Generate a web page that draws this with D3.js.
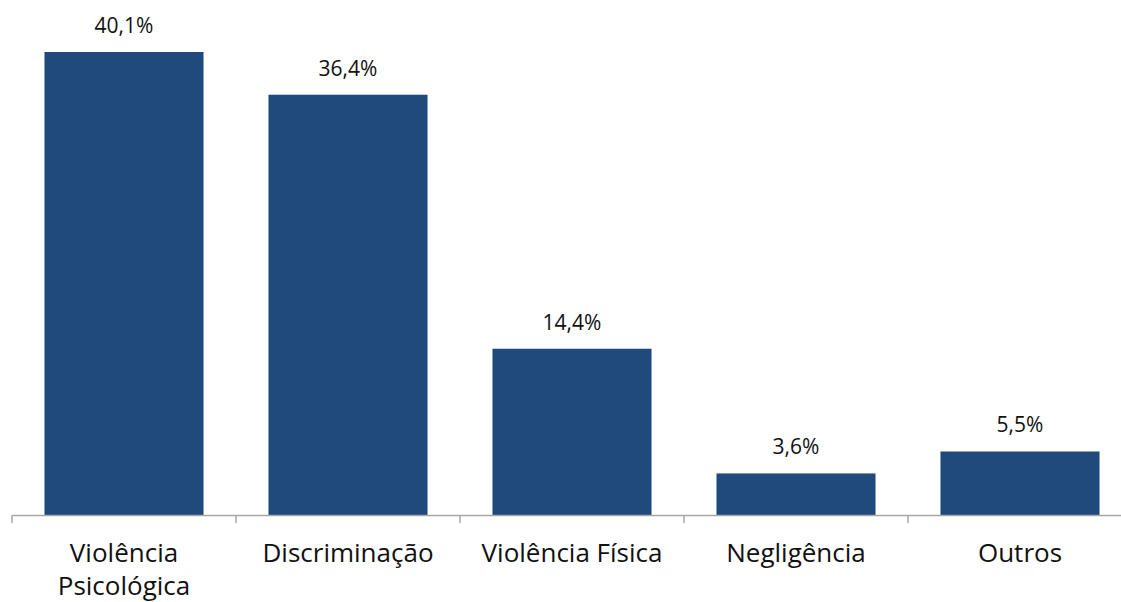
<!DOCTYPE html>
<html><head><meta charset="utf-8">
<script src="https://cdn.jsdelivr.net/npm/d3@7"></script>
<style>body{margin:0;background:#fff}</style>
</head><body>
<svg id="c" width="1121" height="602"></svg>
<script>
const categories = [["Violência","Psicológica"],["Discriminação"],["Violência Física"],["Negligência"],["Outros"]];
const values = [40.1, 36.4, 14.4, 3.6, 5.5];
const valueLabels = ["40,1%","36,4%","14,4%","3,6%","5,5%"];

const svg = d3.select("#c");
const baseY = 515;
const x = d3.scaleBand().domain(d3.range(values.length)).range([12, 1132]).paddingInner(0.29).paddingOuter(0.145);
const y = d3.scaleLinear().domain([0, 40.1]).range([baseY, 52]);

svg.selectAll("rect.bar").data(values).join("rect")
  .attr("x", (d,i)=>x(i)).attr("width", x.bandwidth())
  .attr("y", d=>y(d)).attr("height", d=>baseY - y(d))
  .attr("fill", "#214a7c");

// axis
svg.append("line").attr("x1", 12).attr("x2", 1121).attr("y1", baseY+0.5).attr("y2", baseY+0.5)
  .attr("stroke", "#a6a6a6").attr("stroke-width", 1.5);
const step = x.step();
for (let i = 0; i < values.length; i++) {
  const tx = 12 + i*step;
  svg.append("line").attr("x1", tx).attr("x2", tx).attr("y1", baseY).attr("y2", baseY+8)
    .attr("stroke", "#a6a6a6").attr("stroke-width", 1.5);
}

svg.selectAll("text.val").data(values).join("text")
  .attr("x", (d,i)=>x(i)+x.bandwidth()/2).attr("y", d=>y(d)-19)
  .attr("text-anchor","middle").attr("font-family","Open Sans, sans-serif").attr("font-size", 21)
  .attr("fill","#111").text((d,i)=>valueLabels[i]);

categories.forEach((lines, i) => {
  const t = svg.append("text").attr("x", x(i)+x.bandwidth()/2).attr("y", 562)
    .attr("text-anchor","middle").attr("font-family","Open Sans, sans-serif").attr("font-size", 26).attr("fill","#111");
  lines.forEach((l, j) => t.append("tspan").attr("x", x(i)+x.bandwidth()/2).attr("dy", j===0?0:33).text(l));
});
</script>
</body></html>
